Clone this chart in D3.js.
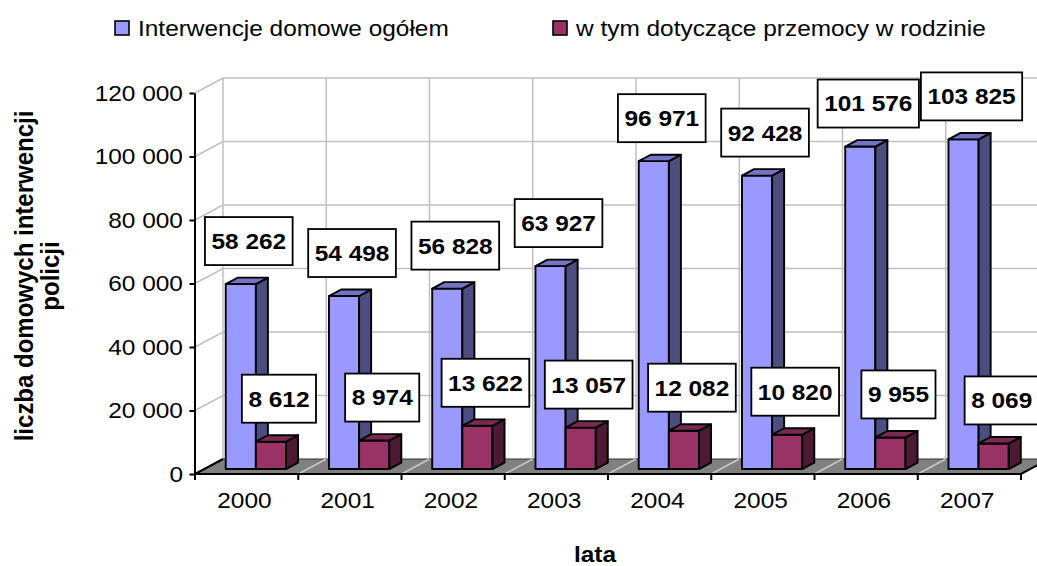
<!DOCTYPE html>
<html>
<head>
<meta charset="utf-8">
<script src="https://cdn.jsdelivr.net/npm/d3@7"></script>
<style>
  body { margin: 0; background: #fff; }
  text { font-family: "Liberation Sans", Arial, sans-serif; }
</style>
</head>
<body>
<div id="chart"></div>
<script>
// dane
const years = ["2000", "2001", "2002", "2003", "2004", "2005", "2006", "2007"];
const totalInterventions = [58262, 54498, 56828, 63927, 96971, 92428, 101576, 103825];
const violenceInterventions = [8612, 8974, 13622, 13057, 12082, 10820, 9955, 8069];
const yTicks = [0, 20000, 40000, 60000, 80000, 100000, 120000];
const seriesNames = ["Interwencje domowe ogółem", "w tym dotyczące przemocy w rodzinie"];

const W = 1037, H = 566;
const STRETCH = 1.11; // obraz rozciągnięty poziomo
const DX = 28, DY = 15; // głębokość wykresu 3D
const Z0 = 0.33, Z1 = 0.76; // głębokość słupków

const colors = [
    { front: "#9999ff", top: "#7474c4", side: "#4d4d80" },
    { front: "#993366", top: "#7a2952", side: "#4d1a33" }
];

const pl = d3.formatLocale({ decimal: ",", thousands: " ", grouping: [3], currency: ["", " zł"] });
const fmt = pl.format(",d");

const svg = d3.select("#chart").append("svg")
    .attr("width", W)
    .attr("height", H);

const x = d3.scaleBand().domain(years).range([195, 1021]);
const y = d3.scaleLinear().domain([0, 120000]).range([474, 93]);
const sx = d3.scaleBand().domain([0, 1])
    .range([x.bandwidth() * 0.208, x.bandwidth() * 0.792]);

// rzut punktu (x, wartość, głębokość)
function P(px, v, z) {
    return [px + z * DX, y(v) - z * DY];
}
function poly(points) {
    return "M" + points.map(p => p.join(",")).join("L") + "Z";
}

const xLeft = x.range()[0], xRight = x.range()[1];
const boundaries = d3.range(years.length + 1).map(i => xLeft + i * x.step());

// siatka na ścianach
const grid = svg.append("g").attr("stroke", "#c0c0c0").attr("stroke-width", 1.5).attr("fill", "none");
yTicks.filter(t => t > 0).forEach(t => {
    grid.append("path").attr("d", "M" + P(xLeft, t, 0) + "L" + P(xLeft, t, 1) + "L" + P(xRight, t, 1));
});
boundaries.forEach(b => {
    grid.append("path").attr("d", "M" + P(b, 0, 1) + "L" + P(b, 120000, 1));
});

// podłoga
svg.append("path")
    .attr("d", poly([P(xLeft, 0, 0), P(xRight, 0, 0), P(xRight, 0, 1), P(xLeft, 0, 1)]))
    .attr("fill", "#808080")
    .attr("stroke", "#333")
    .attr("stroke-width", 1);
boundaries.slice(1, -1).forEach(b => {
    svg.append("path").attr("d", "M" + P(b, 0, 0) + "L" + P(b, 0, 1))
        .attr("stroke", "#c8c8c8").attr("stroke-width", 1.5);
});
svg.append("path")
    .attr("d", "M" + P(xLeft, 0, 1) + "L" + P(xLeft, 0, 0) + "L" + P(xRight, 0, 0) + "L" + P(xRight, 0, 1))
    .attr("fill", "none").attr("stroke", "#000").attr("stroke-width", 2);

// słupki
const series = [totalInterventions, violenceInterventions];
const labels = [];
years.forEach((yr, i) => {
    series.forEach((vals, s) => {
        const v = vals[i];
        const x0 = x(yr) + sx(s), x1 = x0 + sx.bandwidth();
        const g = svg.append("g").attr("stroke", "#000").attr("stroke-width", 1.9).attr("stroke-linejoin", "round");
        g.append("path").attr("fill", colors[s].front)
            .attr("d", poly([P(x0, 0, Z0), P(x1, 0, Z0), P(x1, v, Z0), P(x0, v, Z0)]));
        g.append("path").attr("fill", colors[s].side)
            .attr("d", poly([P(x1, 0, Z0), P(x1, 0, Z1), P(x1, v, Z1), P(x1, v, Z0)]));
        g.append("path").attr("fill", colors[s].top)
            .attr("d", poly([P(x0, v, Z0), P(x1, v, Z0), P(x1, v, Z1), P(x0, v, Z1)]));
        const top = P((x0 + x1) / 2, v, Z0);
        labels.push({ v: v, cx: top[0] + 8, cy: top[1] - 43 });
    });
});

// oś Y
const yAxis = svg.append("g")
    .attr("transform", "translate(194.5,0)")
    .call(d3.axisLeft(y).tickValues(yTicks).tickSize(5).tickSizeOuter(0).tickPadding(5.4).tickFormat(fmt));
yAxis.select(".domain").attr("stroke", "#000").attr("stroke-width", 2);
yAxis.selectAll(".tick line").attr("stroke", "#000").attr("stroke-width", 2);
yAxis.selectAll("text")
    .attr("font-family", "Liberation Sans, Arial, sans-serif")
    .attr("font-size", 22)
    .attr("fill", "#000")
    .attr("transform", `scale(${STRETCH},1)`);

// oś X
svg.append("g").selectAll("line").data(boundaries).join("line")
    .attr("x1", d => d).attr("x2", d => d)
    .attr("y1", 474).attr("y2", 480)
    .attr("stroke", "#000").attr("stroke-width", 2);
const xAxis = svg.append("g")
    .attr("transform", "translate(0,474)")
    .call(d3.axisBottom(x).tickSize(0).tickPadding(18.4));
xAxis.select(".domain").remove();
xAxis.selectAll("text")
    .attr("font-family", "Liberation Sans, Arial, sans-serif")
    .attr("font-size", 22)
    .attr("fill", "#000")
    .attr("x", -2)
    .attr("transform", `scale(${STRETCH},1)`);

// etykiety wartości
labels.forEach(d => {
    const g = svg.append("g").attr("transform", `translate(${d.cx},${d.cy})`);
    const rect = g.append("rect");
    const t = g.append("text")
        .attr("transform", `scale(${STRETCH},1)`)
        .attr("text-anchor", "middle")
        .attr("dy", "0.36em")
        .attr("font-size", 22)
        .attr("font-weight", "bold")
        .text(fmt(d.v));
    const w = t.node().getComputedTextLength() * STRETCH + 13;
    rect.attr("x", -w / 2).attr("y", -24).attr("width", w).attr("height", 48)
        .attr("fill", "#fff").attr("stroke", "#000").attr("stroke-width", 1.8);
});

// legenda
const legendX = [115, 553];
seriesNames.forEach((name, s) => {
    svg.append("rect")
        .attr("x", legendX[s]).attr("y", 21).attr("width", 14).attr("height", 14)
        .attr("fill", colors[s].front).attr("stroke", "#000").attr("stroke-width", 1.6);
    svg.append("text")
        .attr("transform", `translate(${legendX[s] + 23},36) scale(${STRETCH},1)`)
        .attr("font-size", 22)
        .text(name);
});

// tytuły osi
const yTitle = svg.append("g")
    .attr("transform", `translate(33,276) scale(${STRETCH},1) rotate(-90)`)
    .attr("text-anchor", "middle")
    .attr("font-weight", "bold")
    .attr("font-size", 24);
yTitle.append("text").attr("y", 0).text("liczba domowych interwencji");
yTitle.append("text").attr("y", 23.5).text("policji");

svg.append("text")
    .attr("transform", `translate(595,562) scale(${STRETCH},1)`)
    .attr("text-anchor", "middle")
    .attr("font-weight", "bold")
    .attr("font-size", 22)
    .text("lata");
</script>
</body>
</html>
